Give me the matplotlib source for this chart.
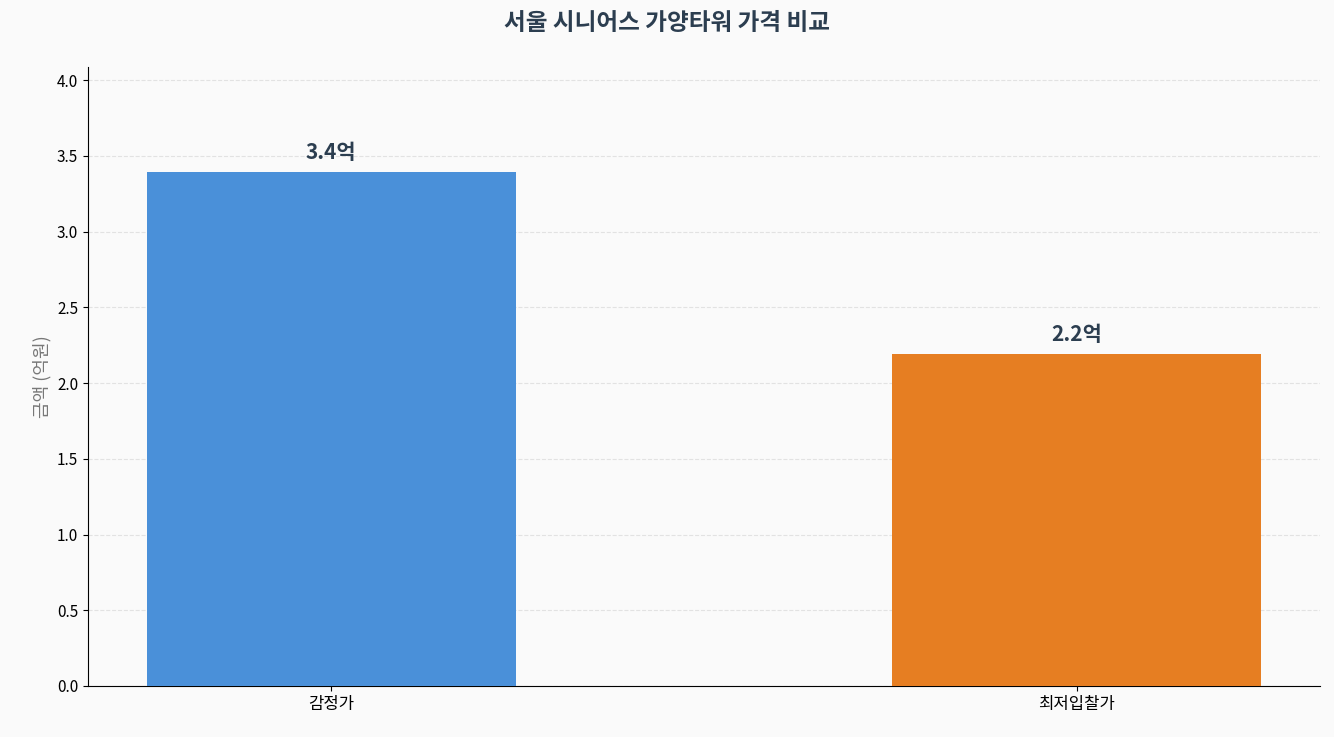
import matplotlib
matplotlib.use("Agg")
import matplotlib.pyplot as plt

plt.rcParams["font.family"] = ["Noto Sans CJK KR", "DejaVu Sans"]

categories = ["감정가", "최저입찰가"]
values = [3.39, 2.19]
value_labels = ["3.4억", "2.2억"]
colors = ["#4A90D9", "#E67E22"]

fig = plt.figure(figsize=(13.34, 7.37), dpi=100, facecolor="#FAFAFA")
ax = fig.add_axes([88 / 1334, 1 - 686 / 737, (1320 - 88) / 1334, (686 - 67) / 737])
ax.set_facecolor("#FAFAFA")

x = range(len(categories))
ax.bar(x, values, width=0.495, color=colors, zorder=3)
for xi, v, lab in zip(x, values, value_labels):
    ax.text(xi, v + 0.06, lab, ha="center", va="bottom", fontsize=15,
            fontweight="bold", color="#2C3E50")

ax.set_xticks(list(x), categories, fontsize=12)
ax.set_xlim(-0.326, 1.326)
ax.set_ylim(0, 4.086)
ax.set_yticks([0, 0.5, 1, 1.5, 2, 2.5, 3, 3.5, 4])
ax.tick_params(axis="y", labelsize=11)
ax.set_ylabel("금액 (억원)", fontsize=13, color="#777777")
ax.grid(axis="y", linestyle="--", color="#DDDDDD", alpha=0.8, zorder=0)
ax.spines["top"].set_visible(False)
ax.spines["right"].set_visible(False)
fig.suptitle("서울 시니어스 가양타워 가격 비교", fontsize=17, fontweight="bold",
             color="#2C3E50", y=0.985)

fig.savefig("out.png", dpi=100, facecolor=fig.get_facecolor())
